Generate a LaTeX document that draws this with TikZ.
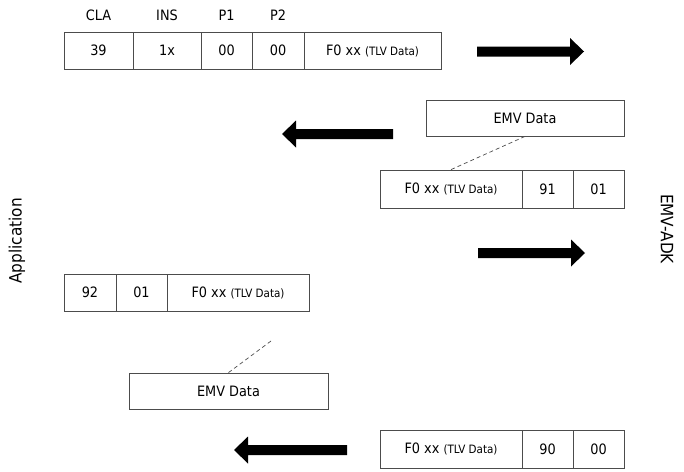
\documentclass[tikz,border=0pt]{standalone}
\usepackage{fontspec}
\setmainfont{DejaVu Sans Condensed}
\usetikzlibrary{shadows}
\begin{document}
\begin{tikzpicture}[x=1pt,y=-1pt,
  cell/.style={draw=black!70, line width=0.8pt, fill=white, rectangle, inner sep=0pt,
    font=\fontsize{14.3}{16}\selectfont,
    drop shadow={shadow xshift=1.2pt, shadow yshift=-1.2pt, fill=black!20, opacity=1}},
  hdr/.style={font=\fontsize{14.3}{16}\selectfont, inner sep=0pt},
  side/.style={font=\fontsize{17}{19}\selectfont, inner sep=0pt},
  fatarrow/.style={fill=black},
  link/.style={draw=black!70, dashed, line width=0.7pt, dash pattern=on 4pt off 3pt}]
\useasboundingbox (0,0) rectangle (684,471);
\newcommand{\tlv}{F0 xx {\fontsize{11.5}{12}\selectfont (TLV Data)}}
% header labels
\node[hdr] (hcla) at (98.5,15) {CLA};
\node[hdr] (hins) at (167,15) {INS};
\node[hdr] (hp1) at (226.5,15) {P1};
\node[hdr] (hp2) at (278,15) {P2};
% top row
\node[cell, minimum width=69pt, minimum height=37pt] (t1) at (98.5,50.5) {39};
\node[cell, minimum width=68pt, minimum height=37pt] (t2) at (167,50.5) {1x};
\node[cell, minimum width=51pt, minimum height=37pt] (t3) at (226.5,50.5) {00};
\node[cell, minimum width=52pt, minimum height=37pt] (t4) at (278,50.5) {00};
\node[cell, minimum width=137pt, minimum height=37pt] (t5) at (372.5,50.5) {\tlv};
% EMV data 1
\node[cell, minimum width=198pt, minimum height=36pt] (emva) at (525,118) {EMV Data};
% row 2
\node[cell, minimum width=142pt, minimum height=38pt] (ra1) at (451,189) {\tlv};
\node[cell, minimum width=51pt, minimum height=38pt] (ra2) at (547.5,189) {91};
\node[cell, minimum width=51pt, minimum height=38pt] (ra3) at (598.5,189) {01};
\draw[link] (emva.south) -- (ra1.north);
% row 3
\node[cell, minimum width=52pt, minimum height=37pt] (rb1) at (90,292.5) {92};
\node[cell, minimum width=51pt, minimum height=37pt] (rb2) at (141.5,292.5) {01};
\node[cell, minimum width=142pt, minimum height=37pt] (rb3) at (238,292.5) {\tlv};
% EMV data 2
\node[cell, minimum width=199pt, minimum height=36pt] (emvb) at (228.5,391) {EMV Data};
\coordinate (dashend) at (271,341);
\draw[link] (dashend) -- (emvb.north);
% row 4
\node[cell, minimum width=142pt, minimum height=38pt] (rc1) at (451,449) {\tlv};
\node[cell, minimum width=51pt, minimum height=38pt] (rc2) at (547.5,449) {90};
\node[cell, minimum width=51pt, minimum height=38pt] (rc3) at (598.5,449) {00};
% side labels
\node[side, rotate=90] (app) at (17,241) {Application};
\node[side, rotate=-90] (adk) at (667,229) {EMV-ADK};
% arrows
\fill[fatarrow] (477,46.5) -- (570,46.5) -- (570,38) -- (584,51.5) -- (570,65) -- (570,56.5) -- (477,56.5) -- cycle;
\fill[fatarrow] (393,129) -- (296,129) -- (296,120.5) -- (282,134) -- (296,147.5) -- (296,139) -- (393,139) -- cycle;
\fill[fatarrow] (478,248) -- (571,248) -- (571,239.5) -- (585,253) -- (571,266.5) -- (571,258) -- (478,258) -- cycle;
\fill[fatarrow] (347,445) -- (248,445) -- (248,436.5) -- (234,450) -- (248,463.5) -- (248,455) -- (347,455) -- cycle;
\end{tikzpicture}
\end{document}
